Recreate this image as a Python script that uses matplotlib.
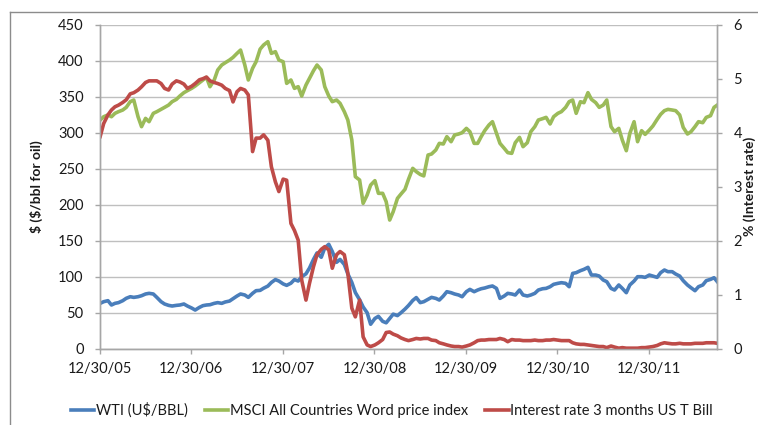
import matplotlib
matplotlib.use("Agg")
import matplotlib.pyplot as plt
from matplotlib.lines import Line2D
import pandas as pd

plt.rcParams["font.family"] = ["Lato", "DejaVu Sans"]

# semi-monthly readings, Jan 2006 .. Sep 2012, plus the last day shown
dates = list(pd.date_range("2006-01-01", periods=162, freq="SMS")) + [pd.Timestamp("2012-09-28")]

wti = [
    63.0, 65.3, 66.7, 60.7, 63.0, 64.0, 66.7, 70.0, 72.2, 71.3, 72.2, 73.6, 76.0, 76.9,
    76.0, 71.3, 65.3, 62.1, 60.2, 59.3, 60.2, 60.7, 62.1, 59.3, 56.5, 53.7, 57.4, 59.8,
    60.7, 61.1, 63.0, 64.0, 63.0, 64.9, 66.2, 69.5, 73.2, 76.0, 74.6, 71.3, 76.9, 80.6,
    81, 84, 87, 92, 96, 94, 90, 88, 91, 96, 94, 100, 104, 112, 124, 133, 127, 140, 145,
    135, 120, 124, 117, 104, 92, 78, 68, 58, 50, 34, 42, 45, 38, 36, 42, 48, 46, 50, 55,
    60, 67, 71, 64,
    65.3, 68.5, 71.3, 69.9, 67.6, 73.2, 79.2, 77.8, 76.0, 74.6, 72.2, 79.2, 82.4, 79.2,
    81.5, 83.3, 84.3, 86.1, 87.1, 83.8, 69.9, 73.2, 76.9, 76.0, 74.6, 81.5, 74.6, 73.2,
    74.6, 76.9, 81.5, 83.3, 83.8, 86.1, 89.4, 90.8, 91.7, 90.8, 86.1, 104.6, 105.6, 108.4,
    110.2, 113, 102.3, 102.3, 100.9, 95.4, 93.1, 83.8, 81.5, 88.5, 83.8, 77.8, 88.5, 94,
    100, 100, 99.1, 102.3, 100.9, 99.1, 105.6, 109.3, 107, 107, 103.7, 100.9, 94.5, 88.5,
    84.7, 80.6, 86.1, 88.5, 94.5, 96.3, 98.6, 93.1,
]

msci = [
    317.6, 322.2, 324.6, 322.2, 326.9, 329.2, 331.5, 335.2, 343.1, 345.4, 322.2, 308.4,
    319.9, 315.3, 326.9, 329.2, 332.4, 335.2, 338.4, 343.1, 346.3, 351.0, 355.6, 358.4,
    361.6, 364.8, 369.5, 373.2, 376.9, 363.9, 373.2, 387.1, 394.0, 397.2, 400.9, 404.6,
    410.2, 414.8, 394.0, 373.2, 389.4, 398.6,
    416, 421.8, 426.4, 410.2, 412.5, 401, 398.6, 368.5, 373.2, 361.6, 363.9, 350.9, 366.2,
    375.5, 386.1, 394, 387.1, 363.9, 350.9, 343.1, 345.4, 340.8, 329.2, 317.6, 289.8,
    238.9, 234.3, 201.9, 213.4, 227.3, 233.4, 215.8, 215.8, 204.2, 178.7, 190.3, 208.8,
    214.8, 221.3, 235.2, 250.5, 245.9, 242,
    240, 269, 270.4, 276, 285.2, 284.3, 294.5, 287.5, 296.8, 298.2, 300, 306, 301.4, 285.2,
    285.2, 294.5, 302.8, 310.7, 315.3, 299, 285.2, 278.3, 272.3, 271.3, 286.1, 293.5,
    280.6, 286.1, 301.4, 308.4, 317.6, 319.5, 321.3, 312.1, 322.2, 326.9, 329.2, 335.2,
    343.1, 345.4, 326.9, 343,
    341.7, 355.6, 346.3, 341.7, 335.2, 338.4, 345.4, 308.4, 301.4, 306, 289.8, 275, 299,
    315.3, 287.5, 302.8, 297.7, 303.7, 309.3, 318.5, 325.5, 330.6, 332.4, 331.5, 330.6,
    324.6, 307.4, 298.2, 301.4, 308.4, 315.3, 313.9, 321.3, 323.6, 335.2, 338.4,
]

tbill = [
    3.93, 4.17, 4.33, 4.42, 4.48, 4.51, 4.56, 4.61, 4.72, 4.74, 4.79, 4.85, 4.93, 4.96,
    4.96, 4.96, 4.91, 4.82, 4.79, 4.90, 4.96, 4.94, 4.90, 4.82, 4.86, 4.91, 4.98, 5.00,
    5.03, 4.96, 4.93, 4.91, 4.88, 4.82, 4.78, 4.57, 4.76, 4.82, 4.79, 4.70, 3.65, 3.90,
    3.90, 3.96, 3.86, 3.37, 3.09, 2.91, 3.14, 3.12, 2.32, 2.19, 2.01, 1.27, 0.90, 1.21,
    1.52, 1.74, 1.84, 1.89, 1.83, 1.49, 1.74, 1.80, 1.74, 1.40, 0.75, 0.59, 0.90, 0.22,
    0.07, 0.04, 0.07, 0.11, 0.17, 0.30, 0.31, 0.27, 0.24, 0.20, 0.17, 0.15, 0.17, 0.19, 0.18,
    0.19, 0.19, 0.16, 0.15, 0.11, 0.09, 0.07, 0.05, 0.04, 0.04, 0.03, 0.05, 0.07, 0.11,
    0.15, 0.16, 0.16, 0.17, 0.17, 0.17, 0.19, 0.17, 0.13, 0.17, 0.16, 0.16, 0.15, 0.15,
    0.15, 0.16, 0.15, 0.15, 0.16, 0.16, 0.17, 0.16, 0.15, 0.15, 0.15, 0.11, 0.09, 0.08,
    0.08, 0.07, 0.06, 0.05, 0.04, 0.04, 0.02, 0.05, 0.03, 0.01, 0.02, 0.01, 0.01, 0.01,
    0.01, 0.02, 0.02, 0.03, 0.04, 0.06, 0.09, 0.11, 0.10, 0.09, 0.09, 0.10, 0.09, 0.09,
    0.09, 0.10, 0.10, 0.10, 0.11, 0.11, 0.11, 0.10,
]

tick_dates = pd.to_datetime(["2005-12-30", "2006-12-30", "2007-12-30", "2008-12-30",
                             "2009-12-30", "2010-12-30", "2011-12-30"])
tick_labels = [d.strftime("%m/%d/%y") for d in tick_dates]

grey = "#A6A6A6"
txt = "#1a1a1a"

fig = plt.figure(figsize=(7.58, 4.25), dpi=100)
ax = fig.add_axes([0.1315, 0.1795, 0.8148, 0.7624])
ax2 = ax.twinx()

l1, = ax.plot(dates, wti, color="#4A7EBB", lw=2.6, label="WTI (U\\$/BBL)")
l2, = ax.plot(dates, msci, color="#9BBB59", lw=2.6, label="MSCI All Countries Word price index")
l3, = ax2.plot(dates, tbill, color="#BE4B48", lw=2.6, label="Interest rate 3 months US T Bill")

ax.set_xlim(pd.Timestamp("2005-12-30"), pd.Timestamp("2012-09-28"))
ax.set_ylim(0, 450)
ax.set_yticks(range(0, 451, 50))
ax2.set_ylim(0, 6)
ax2.set_yticks(range(0, 7))
ax.set_xticks(tick_dates)
ax.set_xticklabels(tick_labels)

ax.set_axisbelow(True)
ax.yaxis.grid(True, color="#BFBFBF", lw=1.0)

for a in (ax, ax2):
    a.spines["top"].set_visible(False)
    for s in ("left", "right", "bottom"):
        a.spines[s].set_color(grey)
        a.spines[s].set_linewidth(1.0)
    a.tick_params(colors=grey, labelcolor=txt, labelsize=10.5, length=3.6, width=1.0)
ax.tick_params(axis="y", pad=8)
ax.tick_params(axis="x", pad=6)
ax2.tick_params(axis="y", pad=8)

ax.set_ylabel("\\$ (\\$/bbl for oil)", fontsize=10, fontweight="bold", color=txt, labelpad=11)
fig.text(743 / 758, 0.5 * (0.1795 + 0.9419), "% (Interest rate)", rotation=90,
         ha="left", va="center", fontsize=10, fontweight="bold", color=txt)

fig.legend(handles=[l1, l2, l3], loc="center", bbox_to_anchor=(0.517, 0.035), ncol=3,
           frameon=False, fontsize=10.5, handlelength=1.6, handletextpad=0.1,
           columnspacing=1.2, labelcolor=txt)

# outer chart border (top and left edges visible)
fig.add_artist(Line2D([10 / 758, 1], [1 - 12 / 425, 1 - 12 / 425], color="#8C8C8C", lw=1.0))
fig.add_artist(Line2D([10 / 758, 10 / 758], [0, 1 - 12 / 425], color="#8C8C8C", lw=1.0))

fig.savefig("out.png", dpi=100)
